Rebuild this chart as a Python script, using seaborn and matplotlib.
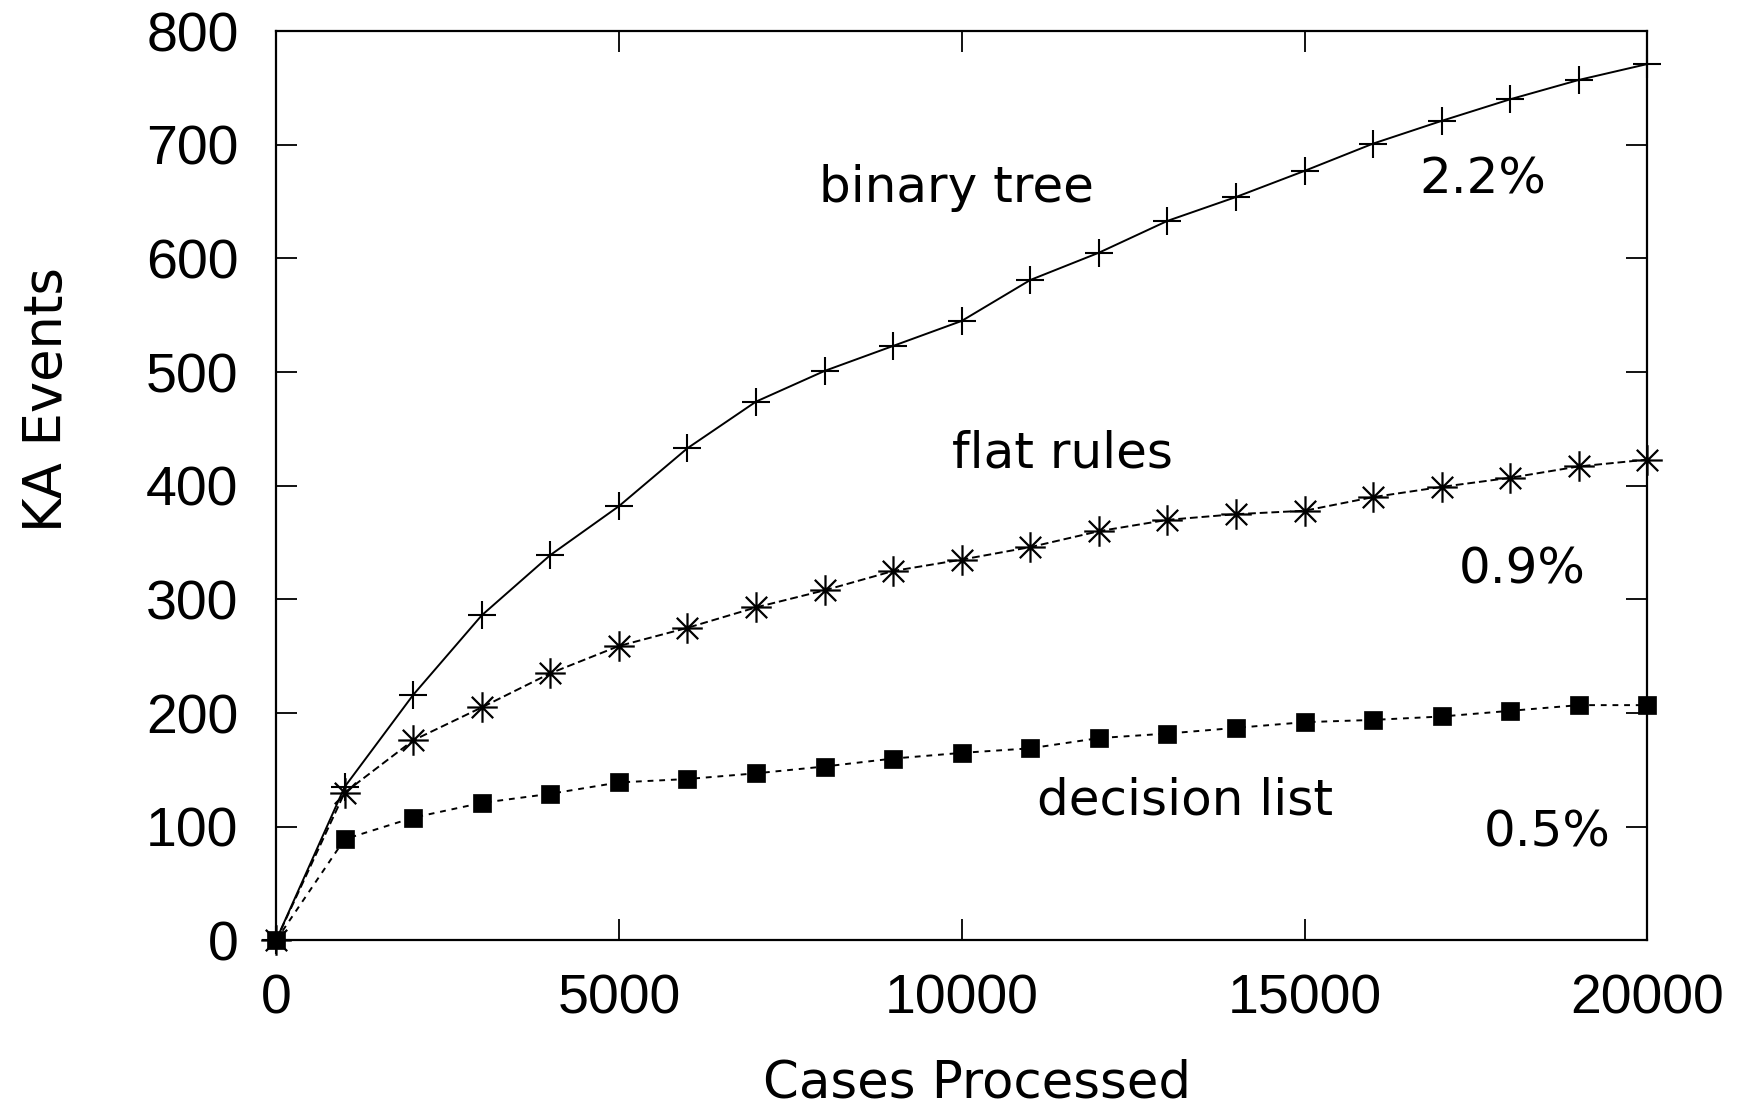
import numpy as np
import pandas as pd
import matplotlib
matplotlib.use("Agg")
import matplotlib.pyplot as plt
from matplotlib.path import Path
import seaborn as sns

# Knowledge-acquisition events per representation
cases = [0, 1000, 2000, 3000, 4000, 5000, 6000, 7000, 8000, 9000, 10000,
         11000, 12000, 13000, 14000, 15000, 16000, 17000, 18000, 19000, 20000]
binary_tree = [0, 135, 216, 286, 339, 382, 433, 474, 501, 523, 545,
               581, 605, 633, 654, 677, 701, 721, 740, 757, 771]
flat_rules = [0, 130, 176, 205, 235, 259, 275, 293, 308, 325, 335,
              346, 360, 370, 375, 378, 390, 399, 407, 417, 423]
decision_list = [0, 89, 108, 121, 129, 139, 142, 147, 153, 160, 165,
                 169, 178, 182, 187, 192, 194, 197, 202, 207, 207]

series_names = ["binary tree", "flat rules", "decision list"]
error_rates = ["2.2%", "0.9%", "0.5%"]

df = pd.DataFrame({
    "cases": cases * 3,
    "events": binary_tree + flat_rules + decision_list,
    "rep": sum([[n] * len(cases) for n in series_names], []),
})

sns.set_theme(style="ticks")
plt.rcParams["font.family"] = ["DejaVu Sans"]
plt.rcParams["text.color"] = "black"
plt.rcParams["axes.labelcolor"] = "black"

fig = plt.figure(figsize=(17.47, 11.09), dpi=100)
ax = fig.add_axes([0.158, 0.152, 0.785, 0.820])

# gnuplot-style asterisk: a plus overlaid with a cross
asterisk = Path(
    [(-1, 0), (1, 0), (0, -1), (0, 1),
     (-0.7, -0.7), (0.7, 0.7), (-0.7, 0.7), (0.7, -0.7)],
    [Path.MOVETO, Path.LINETO] * 4,
)

styles = {
    "binary tree": dict(marker="+", markersize=20, mew=1.5, dashes=None, z=2),
    "flat rules": dict(marker=asterisk, markersize=22, mew=1.6, mfc="none", dashes=(4, 2), z=2),
    "decision list": dict(marker="s", markersize=13, mew=0.5, mfc="black", dashes=(3, 3), z=3),
}

for name in series_names:
    sub = df[df["rep"] == name]
    st = styles[name]
    line_kw = dict(marker=st["marker"], markersize=st["markersize"],
                   markeredgewidth=st["mew"], markeredgecolor="black",
                   color="black", linewidth=1.4, clip_on=False, zorder=st["z"])
    if "mfc" in st:
        line_kw["markerfacecolor"] = st["mfc"]
    sns.lineplot(data=sub, x="cases", y="events", ax=ax, **line_kw)
    if st["dashes"] is not None:
        ax.lines[-1].set_dashes(st["dashes"])

ax.set_xlim(0, 20000)
ax.set_ylim(0, 800)
ax.set_xticks([0, 5000, 10000, 15000, 20000])
ax.set_yticks(range(0, 801, 100))

tick_font = dict(family=["Liberation Sans", "DejaVu Sans"], size=40, color="#111111")
ax.set_xticklabels([str(v) for v in [0, 5000, 10000, 15000, 20000]], fontdict=tick_font)
ax.set_yticklabels([str(v) for v in range(0, 801, 100)], fontdict=tick_font)
ax.tick_params(direction="in", length=15, width=1.3, top=True, right=True,
               colors="black")
ax.tick_params(axis="y", pad=27)
ax.tick_params(axis="x", pad=24)
for sp in ax.spines.values():
    sp.set_linewidth(1.6)
    sp.set_color("black")

ax.set_xlabel("Cases Processed", fontsize=37, va="center")
ax.xaxis.set_label_coords(0.511, -0.157)
ax.set_ylabel("KA Events", fontsize=38, va="center")
ax.yaxis.set_label_coords(-0.167, 0.595)

# series names and error rates
label_pos = [(9930, 662), (11470, 428), (13260, 123)]
rate_pos = [(17600, 669), (18180, 326), (18540, 95)]
for name, (lx, ly), rate, (rx, ry) in zip(series_names, label_pos, error_rates, rate_pos):
    ax.text(lx, ly, name, fontsize=36, ha="center", va="center")
    ax.text(rx, ry, rate, fontsize=36, ha="center", va="center")

fig.savefig("out.png", dpi=100)
